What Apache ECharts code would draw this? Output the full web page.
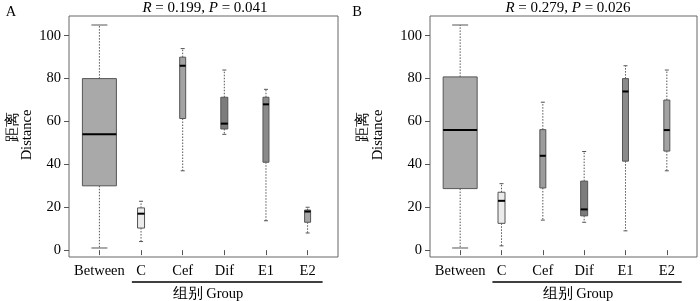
<!DOCTYPE html>
<html>
<head>
<meta charset="utf-8">
<script src="https://cdn.jsdelivr.net/npm/echarts@6/dist/echarts.min.js"></script>
<style>
html, body { margin: 0; padding: 0; background: #fff; }
#chart { width: 700px; height: 301px; }
</style>
</head>
<body>
<div id="chart"></div>
<script>
// data
const categories = ['Between', 'C', 'Cef', 'Dif', 'E1', 'E2'];
const yTicks = [0, 20, 40, 60, 80, 100];
const xTicks = [1, 2, 3, 4, 5, 6];
// each box: [min, Q1, median, Q3, max]
const boxesA = [
  [1, 30, 54, 80, 105],
  [4, 10.3, 17, 19.7, 22.8],
  [37, 61.4, 86, 90, 94],
  [54, 56.5, 59, 71.3, 84],
  [13.7, 41, 68, 71.3, 75],
  [8, 13, 18, 18.7, 20]
];
const boxesB = [
  [1, 28.7, 56, 80.8, 105],
  [2, 12.5, 23, 27, 31],
  [14, 29, 44, 56.2, 69],
  [13, 16, 19, 32.2, 46],
  [9, 41.5, 74, 80, 86],
  [37, 46.2, 56, 70, 84]
];
const titleA = '{i|R} = 0.199, {i|P} = 0.041';
const titleB = '{i|R} = 0.279, {i|P} = 0.026';
const groupLabel = '组别 Group';

// styles
const fillsA = ['#a9a9a9', '#ebebeb', '#a3a3a3', '#7c7c7c', '#8a8a8a', '#a6a6a6'];
const fillsB = ['#a9a9a9', '#ebebeb', '#9c9c9c', '#7c7c7c', '#8a8a8a', '#a2a2a2'];
const boxW = [34, 7, 6, 7, 6, 6];
const capW = [16, 4, 4, 4, 4, 4];
const serif = 'Liberation Serif';

const chart = echarts.init(document.getElementById('chart'));

function boxRender(fills) {
  return function (params, api) {
    const i = params.dataIndex;
    const x = api.coord([api.value(0), 0])[0];
    const y = [1, 2, 3, 4, 5].map(d => api.coord([api.value(0), api.value(d)])[1]);
    const w = boxW[i], c = capW[i];
    const dash = { stroke: '#555', lineWidth: 1, lineDash: [1.5, 1.5] };
    const solid = { stroke: '#555', lineWidth: 1 };
    return {
      type: 'group',
      children: [
        { type: 'line', shape: { x1: x, y1: y[3], x2: x, y2: y[4] }, style: dash },
        { type: 'line', shape: { x1: x, y1: y[1], x2: x, y2: y[0] }, style: dash },
        { type: 'line', shape: { x1: x - c / 2, y1: y[4], x2: x + c / 2, y2: y[4] }, style: solid },
        { type: 'line', shape: { x1: x - c / 2, y1: y[0], x2: x + c / 2, y2: y[0] }, style: solid },
        { type: 'rect', shape: { x: x - w / 2, y: y[3], width: w, height: y[1] - y[3] },
          style: { fill: fills[i], stroke: '#555', lineWidth: 1 } },
        { type: 'line', shape: { x1: x - w / 2, y1: y[2], x2: x + w / 2, y2: y[2] },
          style: { stroke: '#000', lineWidth: 2 } }
      ]
    };
  };
}

function xAxis(idx) {
  return {
    type: 'value', gridIndex: idx, min: 0.27, max: 6.73,
    axisLine: { show: false },
    splitLine: { show: false },
    axisTick: { customValues: xTicks, length: 5, lineStyle: { color: '#555' } },
    axisLabel: {
      customValues: xTicks, margin: 7,
      formatter: v => categories[Math.round(v) - 1],
      fontFamily: serif, fontSize: 14.5, color: '#000'
    }
  };
}
function yAxis(idx) {
  return {
    type: 'value', gridIndex: idx, min: -3.2, max: 109.2,
    axisLine: { show: false },
    splitLine: { show: false },
    axisTick: { customValues: yTicks, length: 5, lineStyle: { color: '#555' } },
    axisLabel: {
      customValues: yTicks, margin: 8,
      fontFamily: serif, fontSize: 14.5, color: '#000'
    }
  };
}

const rich = { i: { fontStyle: 'italic', fontFamily: serif, fontSize: 15 } };
function txt(text, x, y, extra) {
  return Object.assign({
    type: 'text', x: x, y: y,
    style: { text: text, fontFamily: serif, fontSize: 14.5, fill: '#000', align: 'center', verticalAlign: 'middle' }
  }, extra || {});
}

chart.setOption({
  animation: false,
  grid: [
    { left: 69, top: 16, width: 269, height: 241, show: true, borderColor: '#666', borderWidth: 1 },
    { left: 430, top: 16, width: 267, height: 241, show: true, borderColor: '#666', borderWidth: 1 }
  ],
  xAxis: [xAxis(0), xAxis(1)],
  yAxis: [yAxis(0), yAxis(1)],
  series: [
    { type: 'custom', xAxisIndex: 0, yAxisIndex: 0, renderItem: boxRender(fillsA),
      encode: { x: 0, y: [1, 2, 3, 4, 5] }, data: boxesA.map((b, i) => [xTicks[i]].concat(b)) },
    { type: 'custom', xAxisIndex: 1, yAxisIndex: 1, renderItem: boxRender(fillsB),
      encode: { x: 0, y: [1, 2, 3, 4, 5] }, data: boxesB.map((b, i) => [xTicks[i]].concat(b)) }
  ]
});

// group underline spans C..E2 on each panel
const lines = [0, 1].map(g => {
  const p1 = chart.convertToPixel({ gridIndex: g }, [1.78, 0]);
  const p2 = chart.convertToPixel({ gridIndex: g }, [6.36, 0]);
  return { type: 'line', shape: { x1: p1[0], y1: 282, x2: p2[0], y2: 282 }, style: { stroke: '#000', lineWidth: 1.3 } };
});

chart.setOption({
  graphic: lines.concat([
    txt('A', 11, 12, {}),
    txt('B', 357, 12, {}),
    { type: 'text', x: 205, y: 8, style: { text: titleA, rich: rich, fontFamily: serif, fontSize: 15, fill: '#000', align: 'center', verticalAlign: 'middle' } },
    { type: 'text', x: 568, y: 8, style: { text: titleB, rich: rich, fontFamily: serif, fontSize: 15, fill: '#000', align: 'center', verticalAlign: 'middle' } },
    txt('距离', 13, 127, { rotation: Math.PI / 2 }),
    txt('Distance', 27, 135, { rotation: Math.PI / 2 }),
    txt('距离', 363, 127, { rotation: Math.PI / 2 }),
    txt('Distance', 378, 135, { rotation: Math.PI / 2 }),
    txt(groupLabel, 208, 294, {}),
    txt(groupLabel, 578, 294, {})
  ])
});
</script>
</body>
</html>
